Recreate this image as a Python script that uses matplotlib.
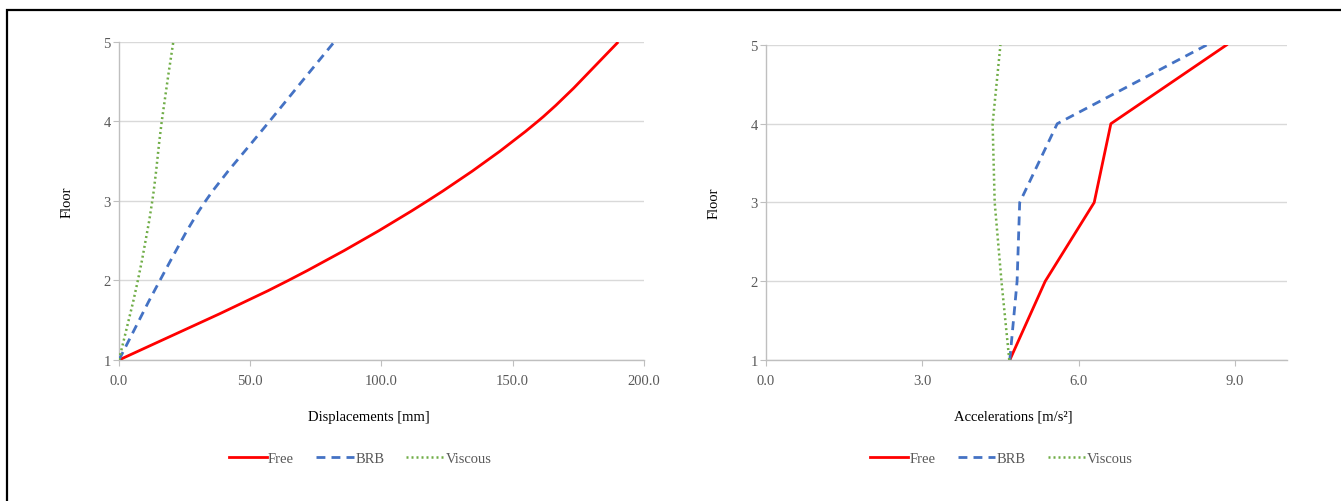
import matplotlib
matplotlib.use("Agg")
import matplotlib.pyplot as plt
import numpy as np
from matplotlib.path import Path
from matplotlib.patches import PathPatch, Rectangle
from matplotlib.lines import Line2D
from matplotlib.ticker import FormatStrFormatter

plt.rcParams['font.family'] = ['Liberation Serif', 'DejaVu Serif']

floors = [1, 2, 3, 4, 5]

# Peak floor displacements [mm]
disp_free = [0.0, 64.5, 117.5, 159.5, 190.2]
disp_brb = [0.0, 15.6, 33.0, 57.3, 82.0]
disp_viscous = [0.0, 7.2, 12.7, 16.3, 20.7]

# Peak floor accelerations [m/s2]
acc_free = [4.68, 5.36, 6.30, 6.62, 8.84]
acc_brb = [4.68, 4.82, 4.87, 5.59, 8.46]
acc_viscous = [4.67, 4.52, 4.39, 4.35, 4.50]

disp_ticks = [0, 50, 100, 150, 200]
acc_ticks = [0, 3, 6, 9]

RED = '#FF0000'
BLUE = '#4472C4'
GREEN = '#70AD47'
TICK_GRAY = '#595959'
AXIS_GRAY = '#BFBFBF'
GRID_GRAY = '#D9D9D9'

styles = [
    ('Free', RED, '-', 2.0),
    ('BRB', BLUE, (0, (3.2, 2.2)), 2.0),
    ('Viscous', GREEN, (0, (0.8, 1.2)), 1.8),
]


def smooth_path(xs, ys):
    """Cubic Bezier (Catmull-Rom style) path through the points, like a smoothed line."""
    pts = np.column_stack([xs, ys]).astype(float)
    n = len(pts)
    verts = [pts[0]]
    codes = [Path.MOVETO]
    for i in range(n - 1):
        p0 = pts[i - 1] if i > 0 else pts[i]
        p1 = pts[i]
        p2 = pts[i + 1]
        p3 = pts[i + 2] if i + 2 < n else pts[i + 1]
        c1 = p1 + (p2 - p0) / 6.0
        c2 = p2 - (p3 - p1) / 6.0
        verts += [c1, c2, p2]
        codes += [Path.CURVE4] * 3
    return Path(verts, codes)


def style_axes(ax, xlim, xticks, xlabel, label_x):
    ax.set_xlim(*xlim)
    ax.set_ylim(1, 5)
    ax.set_xticks(xticks)
    ax.set_yticks(floors)
    ax.xaxis.set_major_formatter(FormatStrFormatter('%.1f'))
    ax.yaxis.grid(True, color=GRID_GRAY, lw=1.0)
    ax.set_axisbelow(True)
    for s in ('top', 'right'):
        ax.spines[s].set_visible(False)
    for s in ('left', 'bottom'):
        ax.spines[s].set_color(AXIS_GRAY)
        ax.spines[s].set_linewidth(1.0)
    ax.tick_params(axis='both', direction='out', length=4, width=0.8,
                   color=AXIS_GRAY, labelcolor=TICK_GRAY, labelsize=10.5)
    ax.tick_params(axis='x', pad=6)
    ax.tick_params(axis='y', pad=2)
    ax.set_xlabel(xlabel, fontsize=10.5)
    ax.set_ylabel('Floor', fontsize=10.5)
    ax.xaxis.set_label_coords(label_x, -0.157)
    ax.yaxis.set_label_coords(-0.087, 0.5)


def legend_below(ax, anchor_x):
    handles = [Line2D([], [], color=c, ls=ls, lw=lw) for (_, c, ls, lw) in styles]
    labels = [name for (name, _, _, _) in styles]
    leg = ax.figure.legend(handles, labels, loc='center',
                           bbox_to_anchor=(anchor_x, 0.085), ncol=3, frameon=False,
                           fontsize=10.5, handlelength=2.6, handletextpad=0.1,
                           columnspacing=1.5, labelcolor=TICK_GRAY)
    return leg


fig = plt.figure(figsize=(13.41, 5.02), dpi=100)

# Displacement profile (smoothed lines)
ax1 = fig.add_axes([0.0887, 0.2809, 0.3915, 0.6335])
for (name, c, ls, lw), xs in zip(styles, [disp_free, disp_brb, disp_viscous]):
    ax1.add_patch(PathPatch(smooth_path(xs, floors), fill=False, edgecolor=c,
                            linestyle=ls, lw=lw, capstyle='butt', zorder=3))
style_axes(ax1, (0, 200), disp_ticks, 'Displacements [mm]', 0.477)
legend_below(ax1, 0.2685)

# Acceleration profile (straight segments)
ax2 = fig.add_axes([0.5712, 0.2809, 0.3885, 0.6275])
for (name, c, ls, lw), xs in zip(styles, [acc_free, acc_brb, acc_viscous]):
    ax2.plot(xs, floors, color=c, ls=ls, lw=lw, zorder=3)
style_axes(ax2, (0, 10), acc_ticks, 'Accelerations [m/s²]', 0.475)
legend_below(ax2, 0.747)

# Outer frame
fig.patches.append(Rectangle((7 / 1341, -0.2), 1.3, 1.2 - 11 / 502, transform=fig.transFigure,
                             fill=False, edgecolor='black', lw=1.6))

fig.savefig('out.png', dpi=100)
